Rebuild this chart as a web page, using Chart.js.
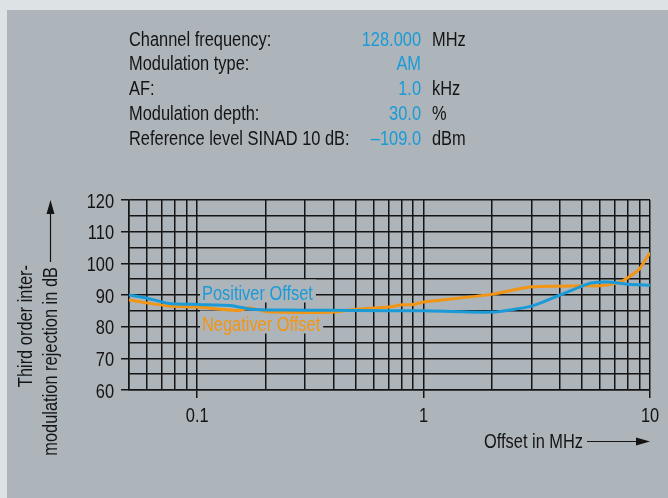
<!DOCTYPE html>
<html>
<head>
<meta charset="utf-8">
<script src="https://cdn.jsdelivr.net/npm/chart.js@4/dist/chart.umd.min.js"></script>
<style>
  html, body { margin: 0; padding: 0; background: #dde2e5; }
  canvas { display: block; }
</style>
</head>
<body>
<canvas id="chart" width="668" height="498"></canvas>
<script>
// Test conditions shown above the diagram
const headerLabels = ['Channel frequency:', 'Modulation type:', 'AF:', 'Modulation depth:', 'Reference level SINAD 10 dB:'];
const headerValues = ['128.000', 'AM', '1.0', '30.0', '\u2013109.0'];
const headerUnits  = ['MHz', '', 'kHz', '%', 'dBm'];

// Positive offset curve (offset in MHz, rejection in dB)
const posOffsetMHz = [0.05, 0.06, 0.075, 0.1, 0.14, 0.17, 0.2, 0.3, 0.5, 1, 2, 3, 4, 5, 5.5, 6.5, 8, 10];
const posRejection = [90.0, 89.0, 87.3, 87.0, 86.7, 85.6, 85.3, 85.2, 85.1, 85.0, 84.6, 86.5, 90.0, 92.8, 93.8, 94.1, 93.4, 93.1];

// Negative offset curve
const negOffsetMHz = [0.05, 0.075, 0.1, 0.153, 0.169, 0.2, 0.3, 0.4, 0.5, 0.7, 0.8, 0.9, 1, 2, 3, 5, 6, 7, 7.5, 8, 9, 10];
const negRejection = [88.4, 86.5, 86.2, 85.1, 86.0, 84.8, 84.5, 84.6, 85.5, 86.2, 86.9, 87.0, 87.8, 90.2, 92.6, 92.9, 92.9, 93.6, 94.3, 95.5, 98.3, 103.4];

// Axis ticks
const xGridTicks = [0.05, 0.06, 0.07, 0.08, 0.09, 0.1, 0.2, 0.3, 0.4, 0.5, 0.6, 0.7, 0.8, 0.9,
                    1, 2, 3, 4, 5, 6, 7, 8, 9, 10];
const xTickLabels = { 0.1: '0.1', 1: '1', 10: '10' };
const yMin = 60, yMax = 120, yStep = 5, yLabelStep = 10;

// Condensed look: regular sans squeezed horizontally
const FONT = '20px "Liberation Sans", Arial, sans-serif';
const SQUEEZE = 0.82;
const BLUE = '#1a9bd7';
const ORANGE = '#f39514';
const PANEL = '#adb4ba';
const FRAME = '#dde2e5';
const INK = '#141414';

const toPoints = (xs, ys) => xs.map((x, i) => ({ x, y: ys[i] }));

function narrowWidth(ctx, text) {
  ctx.font = FONT;
  return ctx.measureText(text).width * SQUEEZE;
}

// align: 'left' | 'right' | 'center'; y is the alphabetic baseline
function narrowText(ctx, text, x, y, align, color) {
  ctx.save();
  ctx.font = FONT;
  ctx.fillStyle = color;
  ctx.textBaseline = 'alphabetic';
  ctx.textAlign = align;
  ctx.translate(x, y);
  ctx.scale(SQUEEZE, 1);
  ctx.fillText(text, 0, 0);
  ctx.restore();
}

function arrow(ctx, x1, y1, x2, y2, head, half) {
  const a = Math.atan2(y2 - y1, x2 - x1);
  const bx = x2 - Math.cos(a) * head, by = y2 - Math.sin(a) * head;
  ctx.beginPath();
  ctx.moveTo(x1, y1);
  ctx.lineTo(bx, by);
  ctx.stroke();
  ctx.beginPath();
  ctx.moveTo(x2, y2);
  ctx.lineTo(bx - Math.sin(a) * half, by + Math.cos(a) * half);
  ctx.lineTo(bx + Math.sin(a) * half, by - Math.cos(a) * half);
  ctx.closePath();
  ctx.fill();
}

const backdrop = {
  id: 'backdrop',
  beforeDraw(chart) {
    const ctx = chart.ctx;
    ctx.save();
    ctx.fillStyle = FRAME;
    ctx.fillRect(0, 0, chart.width, chart.height);
    ctx.fillStyle = PANEL;
    ctx.fillRect(7, 10, chart.width - 7, chart.height - 10);
    ctx.restore();
  }
};

// Curve names sit on panel-coloured patches over the grid
const curveNames = {
  id: 'curveNames',
  beforeDatasetsDraw(chart) {
    const ctx = chart.ctx;
    const items = [
      { text: 'Positiver Offset', color: BLUE, x: 202, y: 299.5 },
      { text: 'Negativer Offset', color: ORANGE, x: 202, y: 330.5 }
    ];
    items.forEach(it => {
      const w = narrowWidth(ctx, it.text);
      ctx.save();
      ctx.fillStyle = PANEL;
      ctx.fillRect(it.x - 2, it.y - 20, w + 5, 23);
      ctx.restore();
      narrowText(ctx, it.text, it.x, it.y, 'left', it.color);
    });
  }
};

// Tick labels placed at the scales' own pixel positions
const tickLabels = {
  id: 'tickLabels',
  afterDraw(chart) {
    const ctx = chart.ctx;
    const xs = chart.scales.x, ys = chart.scales.y;
    for (let v = yMin; v <= yMax; v += yLabelStep) {
      narrowText(ctx, String(v), 114, ys.getPixelForValue(v) + 7.5, 'right', INK);
    }
    Object.keys(xTickLabels).forEach(k => {
      narrowText(ctx, xTickLabels[k], xs.getPixelForValue(Number(k)), 422, 'center', INK);
    });
  }
};

const annotations = {
  id: 'annotations',
  afterDraw(chart) {
    const ctx = chart.ctx;

    // Header block
    headerLabels.forEach((label, i) => {
      const y = 45.5 + i * 24.9;
      narrowText(ctx, label, 129, y, 'left', INK);
      narrowText(ctx, headerValues[i], 421, y, 'right', BLUE);
      if (headerUnits[i]) narrowText(ctx, headerUnits[i], 432, y, 'left', INK);
    });

    // Axis titles with arrows
    ctx.save();
    ctx.fillStyle = INK;
    ctx.strokeStyle = INK;
    ctx.lineWidth = 1.2;
    narrowText(ctx, 'Offset in MHz', 484, 448, 'left', INK);
    arrow(ctx, 587, 441.5, 650, 441.5, 14, 4);

    ctx.save();
    ctx.rotate(-Math.PI / 2);
    narrowText(ctx, 'Third order inter-', -265, 32, 'right', INK);
    narrowText(ctx, 'modulation rejection in dB', -267, 57, 'right', INK);
    ctx.restore();
    arrow(ctx, 50.5, 262, 50.5, 200, 14, 4);
    ctx.restore();
  }
};

new Chart(document.getElementById('chart'), {
  type: 'line',
  data: {
    datasets: [
      {
        label: 'Positiver Offset',
        data: toPoints(posOffsetMHz, posRejection),
        borderColor: BLUE,
        borderWidth: 3,
        pointRadius: 0,
        tension: 0.2,
        fill: false
      },
      {
        label: 'Negativer Offset',
        data: toPoints(negOffsetMHz, negRejection),
        borderColor: ORANGE,
        borderWidth: 3,
        pointRadius: 0,
        tension: 0.2,
        fill: false
      }
    ]
  },
  options: {
    responsive: false,
    animation: false,
    devicePixelRatio: 1,
    layout: { padding: { left: 0, top: 200, right: 18, bottom: 40 } },
    plugins: {
      legend: { display: false },
      title: { display: false },
      tooltip: { enabled: false }
    },
    scales: {
      x: {
        type: 'logarithmic',
        min: 0.05,
        max: 10,
        afterBuildTicks: (scale) => { scale.ticks = xGridTicks.map(v => ({ value: v })); },
        afterFit: (scale) => { scale.height = 68; },
        border: { display: true, color: INK, width: 1.5 },
        grid: {
          color: INK,
          lineWidth: 1.5,
          tickLength: 8,
          tickWidth: 1.5,
          tickColor: (c) => (c.tick && xTickLabels[c.tick.value] !== undefined) ? INK : 'rgba(0,0,0,0)'
        },
        ticks: {
          autoSkip: false,
          maxRotation: 0,
          callback: () => ''
        }
      },
      y: {
        min: yMin,
        max: yMax,
        afterFit: (scale) => { scale.width = 129; },
        border: { display: true, color: INK, width: 1.5 },
        grid: {
          color: INK,
          lineWidth: 1.5,
          tickLength: 8,
          tickWidth: 1.5,
          tickColor: (c) => (c.tick && c.tick.value % yLabelStep === 0) ? INK : 'rgba(0,0,0,0)'
        },
        ticks: {
          stepSize: yStep,
          autoSkip: false,
          callback: () => ''
        }
      }
    }
  },
  plugins: [backdrop, curveNames, tickLabels, annotations]
});
</script>
</body>
</html>
